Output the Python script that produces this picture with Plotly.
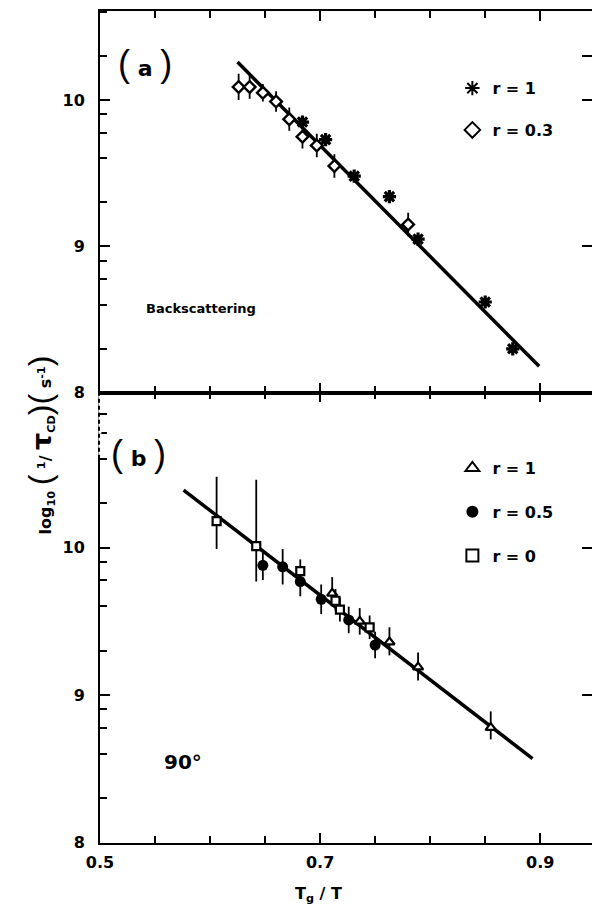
import plotly.graph_objects as go
import numpy as np

# ---------------- data ----------------
# panel (a) backscattering
a_r1_x = [0.684, 0.705, 0.731, 0.763, 0.789, 0.850, 0.875]
a_r1_y = [9.85, 9.73, 9.48, 9.34, 9.05, 8.62, 8.30]
a_r03_x = [0.626, 0.636, 0.648, 0.660, 0.672, 0.684, 0.697, 0.713, 0.780]
a_r03_y = [10.09, 10.09, 10.05, 9.99, 9.87, 9.75, 9.69, 9.55, 9.15]
a_r03_err = [0.09, 0.08, 0.06, 0.07, 0.08, 0.08, 0.08, 0.08, 0.08]
a_fit_x = [0.625, 0.899]
a_fit_y = [10.26, 8.18]

# panel (b) 90 degrees
b_r1_x = [0.711, 0.736, 0.763, 0.789, 0.855]
b_r1_y = [9.69, 9.50, 9.36, 9.19, 8.78]
b_r1_up = [0.11, 0.09, 0.10, 0.10, 0.11]
b_r1_dn = [0.09, 0.09, 0.09, 0.09, 0.08]
b_r05_x = [0.648, 0.666, 0.682, 0.701, 0.726, 0.750]
b_r05_y = [9.88, 9.87, 9.77, 9.65, 9.51, 9.34]
b_r05_err = [0.10, 0.12, 0.10, 0.10, 0.09, 0.09]
b_r0_x = [0.606, 0.642, 0.682, 0.714, 0.718, 0.745]
b_r0_y = [10.18, 10.01, 9.84, 9.64, 9.58, 9.46]
b_r0_up = [0.30, 0.45, 0.08, 0.08, 0.08, 0.08]
b_r0_dn = [0.19, 0.24, 0.08, 0.07, 0.08, 0.08]
b_fit_x = [0.576, 0.893]
b_fit_y = [10.39, 8.57]

x_major = [0.5, 0.7, 0.9]
x_labels = ["0.5", "0.7", "0.9"]
x_minor = [0.55, 0.6, 0.65, 0.75, 0.8, 0.85]
y_major = [8, 9, 10]
y_labels = ["8", "9", "10"]
y_minor_mult = [2, 4, 6, 8]
y_minor = [float(np.log10(m * 10.0 ** e)) for e in (8, 9, 10) for m in y_minor_mult]
right_ticks_a = [9, 10, 10.3]
right_ticks_b = [9, 10]

# ---------------- geometry ----------------
W, H = 592, 918
def py(p):
    return 1 - p / H
x_dom = [88 / W, 1.0]
a_dom = [py(397), py(11)]
b_dom = [py(852), py(397)]
x_range = [0.5, 0.947]
a_range = [8, 10.61]
b_range = [8, 11.05]

FONT = "DejaVu Sans"
tickfont = dict(family=FONT, size=16, color="black", weight="bold")

fig = go.Figure()

# fit lines (below markers)
fig.add_trace(go.Scatter(x=a_fit_x, y=a_fit_y, mode="lines", xaxis="x", yaxis="y",
                         line=dict(color="black", width=3.5), showlegend=False, hoverinfo="skip"))
fig.add_trace(go.Scatter(x=b_fit_x, y=b_fit_y, mode="lines", xaxis="x2", yaxis="y2",
                         line=dict(color="black", width=3.5), showlegend=False, hoverinfo="skip"))

# panel a markers
fig.add_trace(go.Scatter(x=a_r1_x, y=a_r1_y, mode="markers", xaxis="x", yaxis="y",
                         name="r = 1", legend="legend", legendgroup="a1",
                         marker=dict(symbol="asterisk", size=11, color="black",
                                     line=dict(color="black", width=3.2))))
fig.add_trace(go.Scatter(x=a_r03_x, y=a_r03_y, mode="markers", xaxis="x", yaxis="y",
                         name="r = 0.3", legend="legend", legendgroup="a2",
                         error_y=dict(type="data", array=a_r03_err, color="black",
                                      thickness=1.8, width=0),
                         marker=dict(symbol="diamond", size=9, color="white",
                                     line=dict(color="black", width=2.4))))

# panel b markers
fig.add_trace(go.Scatter(x=b_r1_x, y=b_r1_y, mode="markers", xaxis="x2", yaxis="y2",
                         name="r = 1", legend="legend2", legendgroup="b1",
                         error_y=dict(type="data", array=b_r1_up, arrayminus=b_r1_dn,
                                      color="black", thickness=1.8, width=0),
                         marker=dict(symbol="triangle-up", size=9, color="white",
                                     line=dict(color="black", width=2.2))))
fig.add_trace(go.Scatter(x=b_r05_x, y=b_r05_y, mode="markers", xaxis="x2", yaxis="y2",
                         name="r = 0.5", legend="legend2", legendgroup="b2",
                         error_y=dict(type="data", array=b_r05_err, color="black",
                                      thickness=1.8, width=0),
                         marker=dict(symbol="circle", size=11, color="black",
                                     line=dict(color="black", width=0))))
fig.add_trace(go.Scatter(x=b_r0_x, y=b_r0_y, mode="markers", xaxis="x2", yaxis="y2",
                         name="r = 0", legend="legend2", legendgroup="b3",
                         error_y=dict(type="data", array=b_r0_up, arrayminus=b_r0_dn,
                                      color="black", thickness=1.8, width=0),
                         marker=dict(symbol="square", size=8, color="white",
                                     line=dict(color="black", width=2.2))))

# invisible traces to realise right-hand tick axes
fig.add_trace(go.Scatter(x=a_fit_x, y=a_fit_y, mode="lines", xaxis="x", yaxis="y3",
                         line=dict(width=0), opacity=0, showlegend=False, hoverinfo="skip"))
fig.add_trace(go.Scatter(x=b_fit_x, y=b_fit_y, mode="lines", xaxis="x2", yaxis="y4",
                         line=dict(width=0), opacity=0, showlegend=False, hoverinfo="skip"))

def xaxis(anchor, labels):
    return dict(domain=x_dom, range=x_range, anchor=anchor, showgrid=False, zeroline=False,
                showline=True, linecolor="black", linewidth=1.6, mirror="ticks",
                ticks="inside", ticklen=10, tickwidth=2, tickcolor="black",
                tickvals=x_major, ticktext=x_labels, showticklabels=labels,
                tickfont=tickfont, ticklabelstandoff=4,
                minor=dict(tickvals=x_minor, ticks="inside", ticklen=7, tickwidth=1.8,
                           tickcolor="black", showgrid=False))

def yaxis(dom, rng, anchor):
    return dict(domain=dom, range=rng, anchor=anchor, showgrid=False, zeroline=False,
                showline=True, linecolor="black", linewidth=1.8,
                ticks="inside", ticklen=10, tickwidth=2, tickcolor="black",
                tickvals=y_major, ticktext=y_labels, tickfont=tickfont,
                ticklabelstandoff=10,
                minor=dict(tickvals=y_minor, ticks="inside", ticklen=7, tickwidth=1.8,
                           tickcolor="black", showgrid=False))

def rticks(over, rng, anchor, vals):
    return dict(overlaying=over, side="right", anchor=anchor, range=rng, showgrid=False,
                zeroline=False, showline=False, ticks="inside", ticklen=10, tickwidth=2,
                tickcolor="black", tickvals=vals, showticklabels=False)

legfont = dict(family=FONT, size=16, color="black", weight="bold")

fig.update_layout(
    width=W, height=H, margin=dict(l=0, r=0, t=0, b=0),
    paper_bgcolor="white", plot_bgcolor="white",
    xaxis=xaxis("y", False), yaxis=yaxis(a_dom, a_range, "x"),
    xaxis2=xaxis("y2", True), yaxis2=yaxis(b_dom, b_range, "x2"),
    yaxis3=rticks("y", a_range, "x", right_ticks_a),
    yaxis4=rticks("y2", b_range, "x2", right_ticks_b),
    legend=dict(x=(449) / W, y=py(72), xanchor="left", yanchor="top", font=legfont,
                bgcolor="rgba(0,0,0,0)", tracegroupgap=18, itemsizing="constant"),
    legend2=dict(x=(449) / W, y=py(456), xanchor="left", yanchor="top", font=legfont,
                 bgcolor="rgba(0,0,0,0)", tracegroupgap=20, itemsizing="constant"),
)

par = "<span style='font-family:Liberation Sans;font-weight:normal;font-size:36px'>{}</span>"
ann_font = dict(family=FONT, color="black", weight="bold")
fig.add_annotation(xref="paper", yref="paper", x=104 / W, y=py(64), xanchor="left", yanchor="middle",
                   text=par.format("(") + " a " + par.format(")"), showarrow=False,
                   font=dict(ann_font, size=22))
fig.add_annotation(xref="paper", yref="paper", x=97 / W, y=py(458), xanchor="left", yanchor="middle",
                   text=par.format("(") + " b " + par.format(")"), showarrow=False,
                   font=dict(ann_font, size=22))
fig.add_annotation(xref="paper", yref="paper", x=133 / W, y=py(312), xanchor="left", yanchor="middle",
                   text="Backscattering", showarrow=False, font=dict(ann_font, size=13))
fig.add_annotation(xref="paper", yref="paper", x=152 / W, y=py(770), xanchor="left", yanchor="middle",
                   text="90°", showarrow=False, font=dict(ann_font, size=20))
fig.add_annotation(xref="paper", yref="paper", x=(312) / W, y=py(904), xanchor="center", yanchor="middle",
                   text="T<sub>g</sub> / T", showarrow=False, font=dict(ann_font, size=16))
ypar = "<span style='font-family:Liberation Sans;font-weight:normal;font-size:32px'>{}</span>"
ytitle = ("log<sub>10</sub> " + ypar.format("(") + " <sup>1</sup>/ "
          + "<span style='font-size:27px'>τ</span><sub>CD</sub>" + ypar.format(")")
          + ypar.format("(") + " s<sup>-1</sup>" + ypar.format(")"))
fig.add_annotation(xref="paper", yref="paper", x=27 / W, y=py(450), xanchor="center", yanchor="middle",
                   text=ytitle, textangle=-90, showarrow=False, font=dict(ann_font, size=16))

# dashed portion of left spine at top of panel (b)
fig.add_shape(type="line", xref="paper", yref="paper", x0=88 / W, x1=88 / W, y0=py(400), y1=py(462),
              line=dict(color="white", width=3, dash="3px,4px"), layer="above")

fig.write_html("out.html")
